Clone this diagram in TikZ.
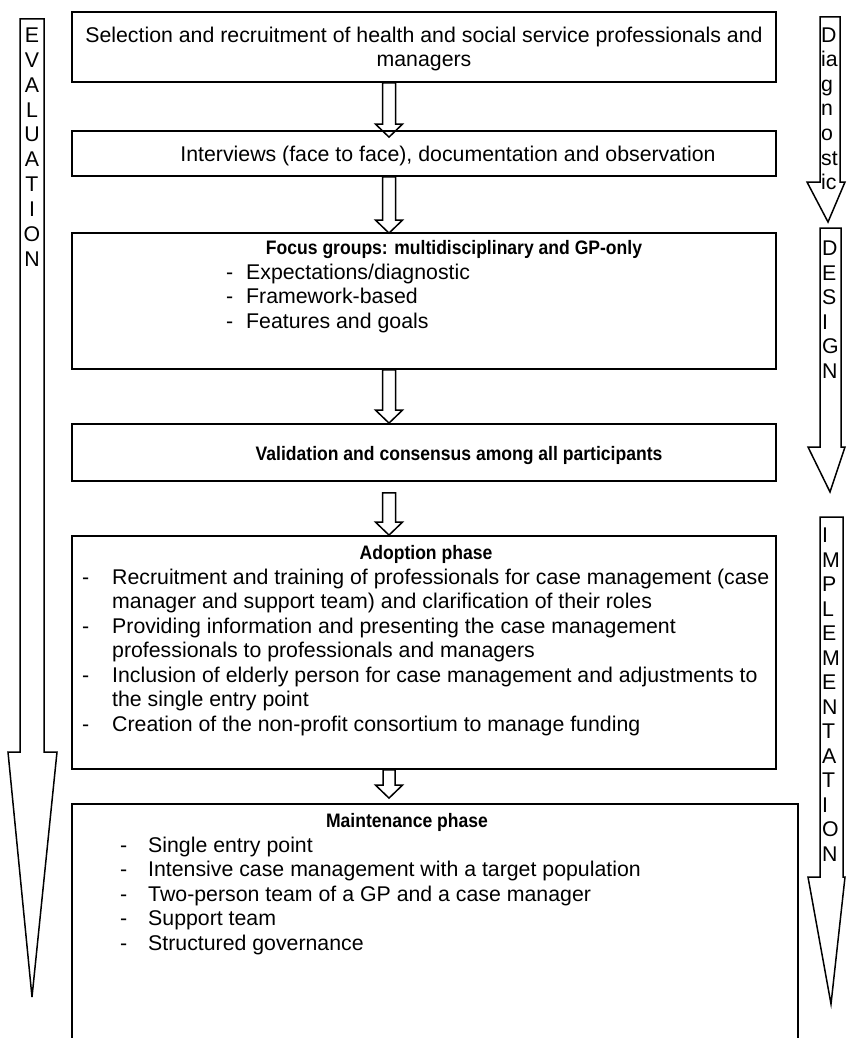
\documentclass[tikz,border=0pt]{standalone}
\usepackage{fontspec}
\setmainfont{Liberation Sans}
\newfontfamily\headfont{Liberation Sans}[FakeStretch=0.9]
\usetikzlibrary{calc}

\newcommand\flowarrow[3][6.5pt]{%
  \draw[flow] let \p1=(#2), \p2=(#3) in
    (\x1-#1,\y1) -- (\x1+#1,\y1) -- (\x1+#1,\y2+13pt) -- (\x1+13.5pt,\y2+13pt)
    -- (\x1,\y2) -- (\x1-13.5pt,\y2+13pt) -- (\x1-#1,\y2+13pt) -- cycle;}

\begin{document}
\begin{tikzpicture}[x=1pt, y=-1pt,
    frame/.style={draw, line width=1.8pt, inner sep=0pt},
    flow/.style={draw, line width=1.5pt, line join=miter},
    txt/.style={inner sep=0pt, font=\fontsize{21.3}{24.5}\selectfont},
    head/.style={inner sep=0pt, font=\headfont\fontsize{19.5}{24.5}\selectfont\bfseries}]
				\clip (0,0) rectangle (846,1038);
				\fill[white] (0,0) rectangle (846,1038);

				% Boxes
				\node[frame, minimum width=704pt, minimum height=70pt] (sel) at (424,47) {};
				\node[frame, minimum width=704pt, minimum height=45pt] (intv) at (424,153.5) {};
				\node[frame, minimum width=704pt, minimum height=136pt] (focus) at (424,301) {};
				\node[frame, minimum width=704pt, minimum height=57pt] (valid) at (424,452.5) {};
				\node[frame, minimum width=704pt, minimum height=233pt] (adopt) at (424,652.5) {};
				\node[frame, minimum width=726pt, minimum height=260pt] (maint) at (435,934) {};

				% Texts
				\node[txt, anchor=base] (sel1) at (424,42.5) {Selection and recruitment of health and social service professionals and};
				\node[txt, anchor=base] (sel2) at (424,67) {managers};
				\node[txt, anchor=base] (intv1) at (448,161) {Interviews (face to face), documentation and observation};

				\node[head, anchor=base] (focus0) at (454,254.5) {Focus groups: multidisciplinary and GP-only};
				\node[txt, anchor=base west] (fd1) at (226,279) {-};
				\node[txt, anchor=base west] (focus1) at (246,279) {Expectations/diagnostic};
				\node[txt, anchor=base west] (fd2) at (226,303.5) {-};
				\node[txt, anchor=base west] (focus2) at (246,303.5) {Framework-based};
				\node[txt, anchor=base west] (fd3) at (226,328) {-};
				\node[txt, anchor=base west] (focus3) at (246,328) {Features and goals};

				\node[head, anchor=base] (valid1) at (459,460) {Validation and consensus among all participants};

				\node[head, anchor=base] (adopt0) at (426,559.5) {Adoption phase};
				\node[txt, anchor=base west] (ad1) at (82,584) {-};
				\node[txt, anchor=base west] (adopt1) at (112,584) {Recruitment and training of professionals for case management (case};
				\node[txt, anchor=base west] (adopt1b) at (112,608.5) {manager and support team) and clarification of their roles};
				\node[txt, anchor=base west] (ad2) at (82,633) {-};
				\node[txt, anchor=base west] (adopt2) at (112,633) {Providing information and presenting the case management};
				\node[txt, anchor=base west] (adopt2b) at (112,657.5) {professionals to professionals and managers};
				\node[txt, anchor=base west] (ad3) at (82,682) {-};
				\node[txt, anchor=base west] (adopt3) at (112,682) {Inclusion of elderly person for case management and adjustments to};
				\node[txt, anchor=base west] (adopt3b) at (112,706.5) {the single entry point};
				\node[txt, anchor=base west] (ad4) at (82,731) {-};
				\node[txt, anchor=base west] (adopt4) at (112,731) {Creation of the non-profit consortium to manage funding};

				\node[head, anchor=base] (maint0) at (407,827.5) {Maintenance phase};
				\node[txt, anchor=base west] (md1) at (120,852) {-};
				\node[txt, anchor=base west] (maint1) at (148,852) {Single entry point};
				\node[txt, anchor=base west] (md2) at (120,876.5) {-};
				\node[txt, anchor=base west] (maint2) at (148,876.5) {Intensive case management with a target population};
				\node[txt, anchor=base west] (md3) at (120,901) {-};
				\node[txt, anchor=base west] (maint3) at (148,901) {Two-person team of a GP and a case manager};
				\node[txt, anchor=base west] (md4) at (120,925.5) {-};
				\node[txt, anchor=base west] (maint4) at (148,925.5) {Support team};
				\node[txt, anchor=base west] (md5) at (120,950) {-};
				\node[txt, anchor=base west] (maint5) at (148,950) {Structured governance};

				% Arrows between boxes
				\coordinate (axis) at (389,0);
				\flowarrow{sel.south -| axis}{$(intv.north -| axis)+(0,7)$}
				\flowarrow{intv.south -| axis}{$(focus.north -| axis)+(0,1)$}
				\flowarrow{focus.south -| axis}{valid.north -| axis}
				\flowarrow{$(valid.south -| axis)+(0,11)$}{adopt.north -| axis}
				\flowarrow[6pt]{adopt.south -| axis}{$(maint.north -| axis)+(0,-5)$}

				% Evaluation
				\draw[flow] (20,19) -- (44,19) -- (44,752) -- (57,752) -- (32,997) -- (8,752) -- (20,752) -- cycle;
				\foreach \ch [count=\i] in {E,V,A,L,U,A,T,I,O,N}
					\node[txt, anchor=base] (ev\i) at (32,18+24.8*\i) {\ch};

				% Diagnostic
				\draw[flow] (820,17) -- (840,17) -- (840,182) -- (845,182) -- (828,222) -- (807,182) -- (820,182) -- cycle;
				\foreach \ch [count=\i] in {D,ia,g,n,o,st,ic}
					\node[txt, anchor=base west] (dg\i) at (821,18+24.5*\i) {\ch};

				% Design
				\draw[flow] (820,228) -- (841,228) -- (841,447) -- (845,447) -- (830,492) -- (808,447) -- (820,447) -- cycle;
				\foreach \ch [count=\i] in {D,E,S,I,G,N}
					\node[txt, anchor=base west] (ds\i) at (822,231+24.5*\i) {\ch};

				% Implementation
				\draw[flow] (820,517) -- (843,517) -- (843,877) -- (845,877) -- (831,1004) -- (808,877) -- (820,877) -- cycle;
				\foreach \ch [count=\i] in {I,M,P,L,E,M,E,N,T,A,T,I,O,N}
					\node[txt, anchor=base west] (im\i) at (822,518+24.5*\i) {\ch};
			\end{tikzpicture}
\end{document}
